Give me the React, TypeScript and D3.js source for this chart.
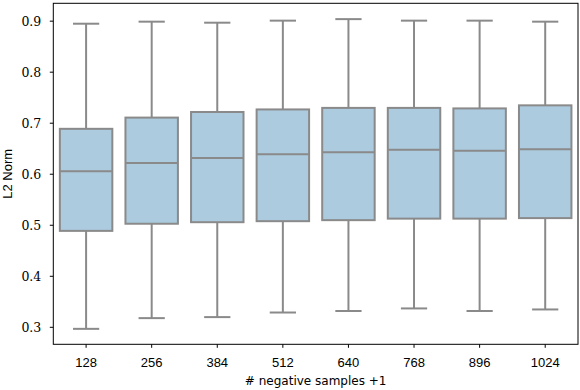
import React from 'react';
import * as d3 from 'd3';

// chart size
const svgWidth = 580;
const svgHeight = 390;
const plotLeft = 53.3;
const plotRight = 578;
const plotTop = 3.3;
const plotBottom = 344.3;

const boxFill = '#accbdf';
const lineColor = '#8a8a8a';

// data
const categories = ['128', '256', '384', '512', '640', '768', '896', '1024'];
const whiskerLow = [0.297, 0.318, 0.320, 0.329, 0.332, 0.337, 0.332, 0.335];
const q1 = [0.489, 0.503, 0.506, 0.508, 0.510, 0.513, 0.513, 0.514];
const median = [0.606, 0.622, 0.632, 0.639, 0.643, 0.648, 0.646, 0.649];
const q3 = [0.689, 0.711, 0.722, 0.727, 0.730, 0.730, 0.729, 0.735];
const whiskerHigh = [0.895, 0.899, 0.897, 0.901, 0.904, 0.901, 0.901, 0.899];
const yTicks = [0.3, 0.4, 0.5, 0.6, 0.7, 0.8, 0.9];

const xScale = d3.scaleBand<string>()
  .domain(categories)
  .range([plotLeft, plotRight])
  .padding(0);

const yScale = d3.scaleLinear()
  .domain([0.2667, 0.935])
  .range([plotBottom, plotTop]);

const App = () => {
  const band = xScale.bandwidth();
  const boxW = band * 0.8;
  const capW = boxW * 0.5;

  const renderBox = (cat: string, i: number) => {
    const cx = xScale(cat)! + band / 2;
    return (
      <g key={cat} stroke={lineColor} strokeWidth={2}>
        {/* whiskers */}
        <line x1={cx} x2={cx} y1={yScale(q3[i])} y2={yScale(whiskerHigh[i])} />
        <line x1={cx} x2={cx} y1={yScale(q1[i])} y2={yScale(whiskerLow[i])} />
        <line x1={cx - capW / 2} x2={cx + capW / 2} y1={yScale(whiskerHigh[i])} y2={yScale(whiskerHigh[i])} />
        <line x1={cx - capW / 2} x2={cx + capW / 2} y1={yScale(whiskerLow[i])} y2={yScale(whiskerLow[i])} />
        {/* box */}
        <rect
          x={cx - boxW / 2}
          y={yScale(q3[i])}
          width={boxW}
          height={yScale(q1[i]) - yScale(q3[i])}
          fill={boxFill}
        />
        <line x1={cx - boxW / 2} x2={cx + boxW / 2} y1={yScale(median[i])} y2={yScale(median[i])} />
      </g>
    );
  };

  return (
    <svg width={svgWidth} height={svgHeight} style={{ position: 'absolute', left: 0, top: 0 }}>
      <rect x={0} y={0} width={svgWidth} height={svgHeight} fill="#fff" />
      {categories.map(renderBox)}

      {/* frame */}
      <rect
        x={plotLeft}
        y={plotTop}
        width={plotRight - plotLeft}
        height={plotBottom - plotTop}
        fill="none"
        stroke="#000"
        strokeWidth={1}
      />

      {/* y axis ticks */}
      {yTicks.map(t => (
        <g key={t}>
          <line x1={plotLeft - 3.5} x2={plotLeft} y1={yScale(t)} y2={yScale(t)} stroke="#000" />
          <text
            x={plotLeft - 12}
            y={yScale(t)}
            dy="0.35em"
            textAnchor="end"
            fontFamily="DejaVu Serif"
            fontSize={12.5}
          >
            {t.toFixed(1)}
          </text>
        </g>
      ))}

      {/* x axis ticks */}
      {categories.map(c => {
        const cx = xScale(c)! + band / 2;
        return (
          <g key={c}>
            <line x1={cx} x2={cx} y1={plotBottom} y2={plotBottom + 3.5} stroke="#000" />
            <text x={cx} y={367} textAnchor="middle" fontFamily="Liberation Sans" fontSize={13}>
              {c}
            </text>
          </g>
        );
      })}

      {/* axis labels */}
      <text
        x={(plotLeft + plotRight) / 2}
        y={385}
        textAnchor="middle"
        fontFamily="DejaVu Sans"
        fontSize={12}
      >
        # negative samples +1
      </text>
      <text
        transform={`translate(12, ${(plotTop + plotBottom) / 2}) rotate(-90)`}
        textAnchor="middle"
        fontFamily="Liberation Sans"
        fontSize={13}
      >
        L2 Norm
      </text>
    </svg>
  );
};

export default App;
